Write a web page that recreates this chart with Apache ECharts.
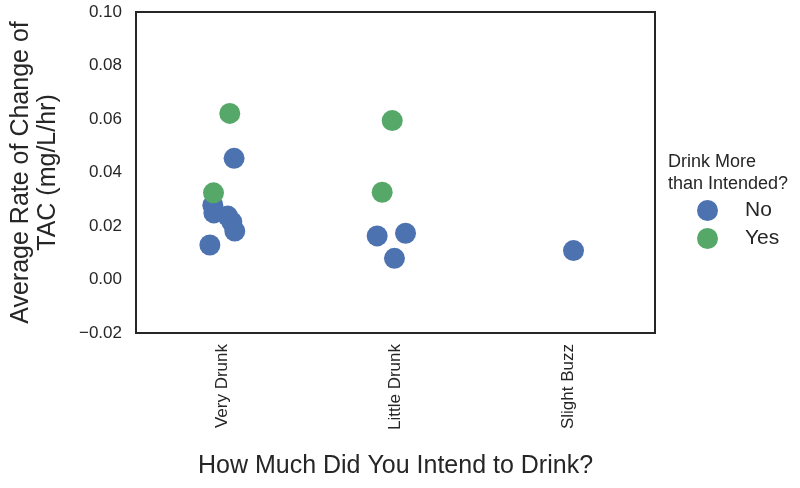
<!DOCTYPE html>
<html>
<head>
<meta charset="utf-8">
<script src="https://cdn.jsdelivr.net/npm/echarts@6/dist/echarts.min.js"></script>
<style>
  html, body { margin: 0; padding: 0; background: #fff; }
  #chart { width: 800px; height: 488px; }
</style>
</head>
<body>
<div id="chart"></div>
<script>
// categories on the x axis
var categories = ['Very Drunk', 'Little Drunk', 'Slight Buzz'];
var yTicks = [-0.02, 0.00, 0.02, 0.04, 0.06, 0.08, 0.10];

// "No" points: category index, strip jitter, value
var noCat    = [0, 0, 0, 0, 0, 0, 0, 1, 1, 1, 2];
var noJitter = [0.067, -0.056, -0.05, 0.03, 0.054, 0.071, -0.073, -0.106, 0.058, -0.006, 0.029];
var noValue  = [0.0453, 0.0278, 0.0249, 0.0237, 0.0215, 0.0181, 0.0129, 0.0163, 0.0173, 0.0079, 0.0108];

// "Yes" points
var yesCat    = [0, 0, 1, 1];
var yesJitter = [0.042, -0.052, -0.019, -0.077];
var yesValue  = [0.0621, 0.0324, 0.0594, 0.0326];

function points(cat, jit, val) {
  var out = [];
  for (var i = 0; i < val.length; i++) {
    out.push([cat[i] + jit[i], val[i]]);
  }
  return out;
}

var font = 'Liberation Sans, Arial, sans-serif';
var ink = '#262626';

var myChart = echarts.init(document.getElementById('chart'));
var option = {
  animation: false,
  textStyle: { fontFamily: font },
  title: {
    text: 'Drink More\nthan Intended?',
    left: 663,
    top: 146,
    textStyle: { fontSize: 18, fontWeight: 'normal', color: ink, lineHeight: 22, fontFamily: font }
  },
  legend: {
    orient: 'vertical',
    left: 692,
    top: 195,
    itemWidth: 21,
    itemHeight: 21,
    itemGap: 7,
    icon: 'circle',
    textStyle: { fontSize: 21, color: ink, padding: [0, 0, 0, 22], fontFamily: font },
    data: ['No', 'Yes']
  },
  grid: {
    left: 135,
    right: 145,
    top: 12,
    bottom: 155,
    show: true,
    borderColor: ink,
    borderWidth: 2
  },
  xAxis: [{
    type: 'category',
    data: categories,
    boundaryGap: true,
    axisLine: { show: false },
    axisTick: { show: false },
    splitLine: { show: false },
    axisLabel: { rotate: 90, fontSize: 17, color: ink, margin: 11, fontFamily: font },
    name: 'How Much Did You Intend to Drink?',
    nameLocation: 'middle',
    nameGap: 121,
    nameTextStyle: { fontSize: 25, color: ink, fontFamily: font }
  }, {
    type: 'value',
    min: -0.5,
    max: 2.5,
    show: false
  }],
  yAxis: {
    type: 'value',
    min: yTicks[0],
    max: yTicks[yTicks.length - 1],
    interval: 0.02,
    axisLine: { show: false },
    axisTick: { show: false },
    splitLine: { show: false },
    axisLabel: {
      fontSize: 17,
      color: ink,
      margin: 14,
      fontFamily: font,
      formatter: function (v) {
        var s = Math.abs(v).toFixed(2);
        return v < -1e-9 ? '\u2212' + s : s;
      }
    },
    name: 'Average Rate of Change of\nTAC (mg/L/hr)',
    nameLocation: 'middle',
    nameGap: 74,
    nameTextStyle: { fontSize: 25, color: ink, lineHeight: 27, fontFamily: font }
  },
  series: [{
    name: 'No',
    type: 'scatter',
    xAxisIndex: 1,
    symbolSize: 21,
    itemStyle: { color: '#4C72B0', opacity: 1 },
    data: points(noCat, noJitter, noValue)
  }, {
    name: 'Yes',
    type: 'scatter',
    xAxisIndex: 1,
    symbolSize: 21,
    itemStyle: { color: '#55A868', opacity: 1 },
    data: points(yesCat, yesJitter, yesValue)
  }]
};
myChart.setOption(option);
</script>
</body>
</html>
